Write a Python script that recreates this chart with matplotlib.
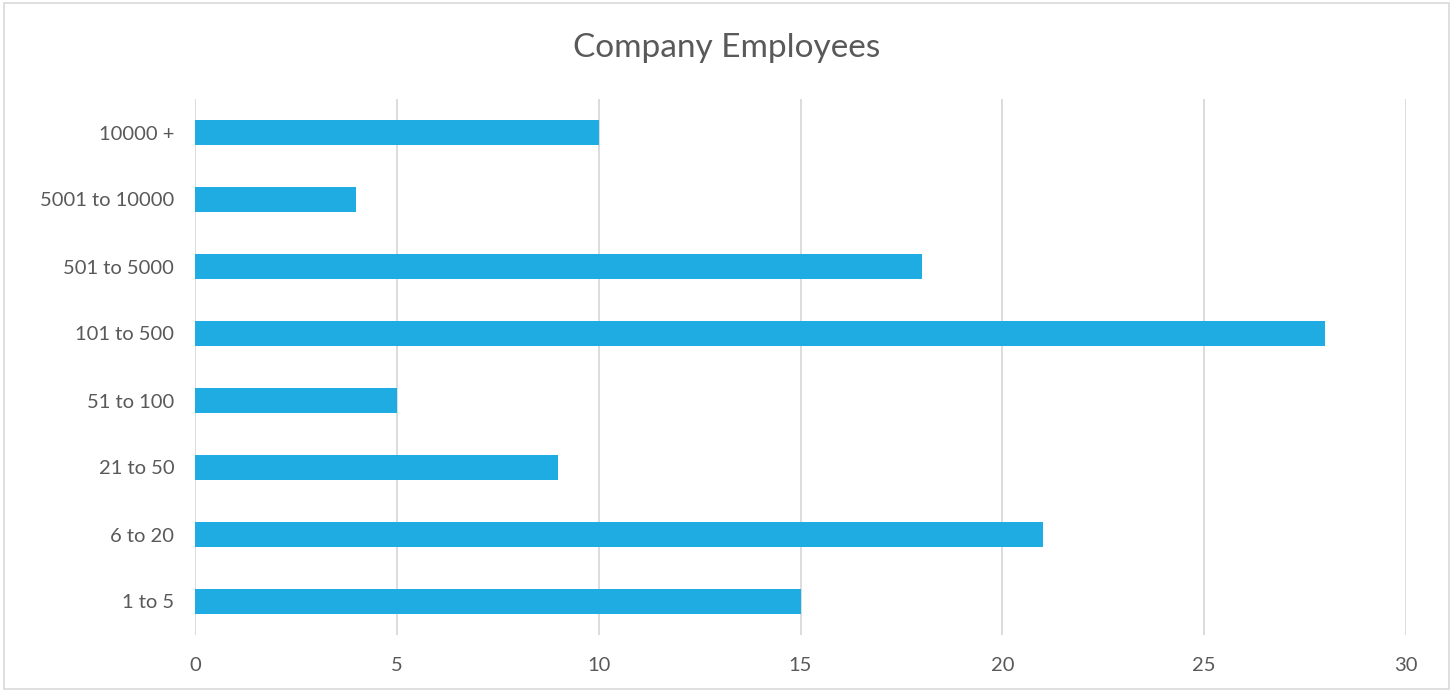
import matplotlib
matplotlib.use("Agg")
import matplotlib.pyplot as plt
from matplotlib.patches import Rectangle

categories = ["1 to 5", "6 to 20", "21 to 50", "51 to 100", "101 to 500",
              "501 to 5000", "5001 to 10000", "10000 +"]
values = [15, 21, 9, 5, 28, 18, 4, 10]
xticks = [0, 5, 10, 15, 20, 25, 30]

plt.rcParams['font.family'] = ['Lato', 'DejaVu Sans']
text_color = "#595959"
grid_color = "#D9D9D9"
bar_color = "#1EACE3"

fig = plt.figure(figsize=(14.53, 6.92), dpi=100)
fig.patches.append(Rectangle((4/1453, 3/692), 1445/1453, 686/692, transform=fig.transFigure,
                             fill=False, edgecolor=grid_color, linewidth=1.2))
ax = fig.add_axes([195/1453, 1 - 635/692, (1406 - 195)/1453, (635 - 99)/692])

y = list(range(len(categories)))
ax.barh(y, values, height=0.36, color=bar_color, zorder=3)
ax.set_xlim(0, 30)
ax.set_ylim(-0.5, len(categories) - 0.5)
ax.set_xticks(xticks)
ax.set_xticklabels([str(t) for t in xticks])
ax.set_yticks(y)
ax.set_yticklabels(categories)
ax.xaxis.grid(True, color=grid_color, linewidth=1.3, zorder=0)
ax.tick_params(axis='both', length=0, labelsize=14.5, colors=text_color)
ax.tick_params(axis='x', pad=16)
ax.tick_params(axis='y', pad=15)
for s in ax.spines.values():
    s.set_visible(False)

fig.text(0.5, 1 - 48/692, "Company Employees", ha='center', va='center',
         fontsize=24, color=text_color)

fig.savefig("out.png", dpi=100)
